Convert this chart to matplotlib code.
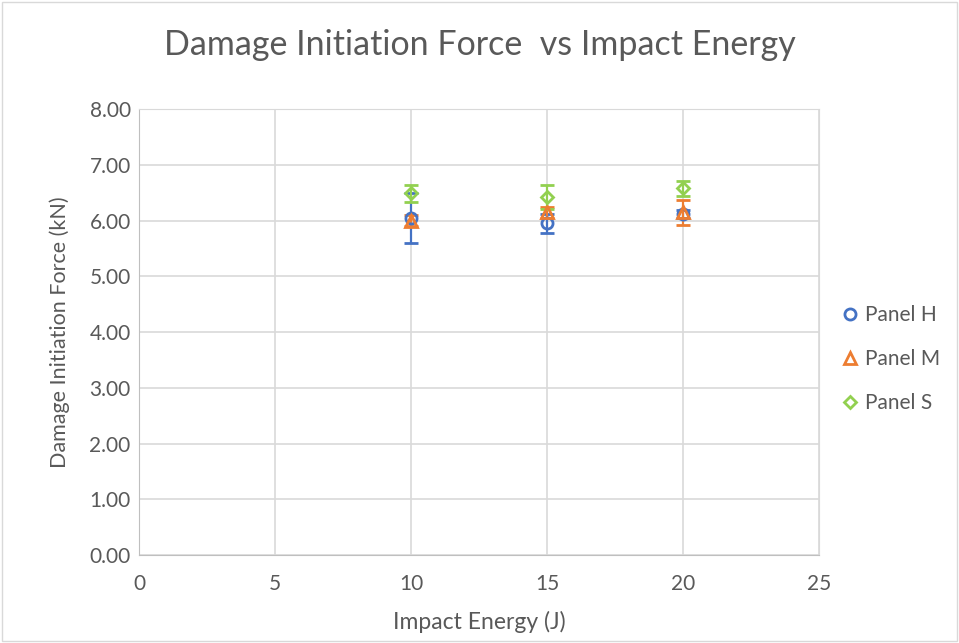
import numpy as np
import matplotlib.pyplot as plt
from matplotlib.patches import Rectangle
from matplotlib.lines import Line2D

plt.rcParams['font.family'] = ['Lato', 'DejaVu Sans']

energy = [10, 15, 20]
panel_h = [6.05, 5.95, 6.12]
panel_h_err = [0.45, 0.17, 0.08]
panel_m = [6.00, 6.15, 6.15]
panel_m_err = [0.10, 0.10, 0.22]
panel_s = [6.49, 6.43, 6.58]
panel_s_err = [0.15, 0.22, 0.14]

labels = ['Panel H', 'Panel M', 'Panel S']
colors = ['#4472C4', '#ED7D31', '#92D050']
markers = ['o', '^', 'D']
sizes = [8, 8, 6.5]

fig = plt.figure(figsize=(9.59, 6.43), dpi=100)
ax = fig.add_axes([0.145, 0.137, 0.709, 0.693])

series = [(panel_h, panel_h_err), (panel_m, panel_m_err), (panel_s, panel_s_err)]
handles = []
for (vals, err), lab, c, m, s in zip(series, labels, colors, markers, sizes):
    ax.errorbar(energy, vals, yerr=err, fmt=m, color=c, ecolor=c, mfc='none',
                mec=c, mew=2, ms=s, elinewidth=1.6, capsize=5, capthick=1.6,
                zorder=3)
    handles.append(Line2D([], [], linestyle='none', marker=m, mfc='none',
                          mec=c, mew=2, ms=s, label=lab))

ax.set_xlim(0, 25)
ax.set_ylim(0, 8)
ax.set_xticks(np.arange(0, 26, 5))
ax.set_yticks(np.arange(0, 8.1, 1))
ax.set_yticklabels([f'{v:.2f}' for v in np.arange(0, 8.1, 1)])
ax.grid(True, color='#d9d9d9', linewidth=1.2)
ax.set_axisbelow(True)
for side in ['top', 'right']:
    ax.spines[side].set_color('#d9d9d9')
for side in ['left', 'bottom']:
    ax.spines[side].set_color('#bfbfbf')
ax.tick_params(axis='y', length=0, labelsize=15, colors='#595959', pad=6)
ax.tick_params(axis='x', length=0, labelsize=15, colors='#595959', pad=14)

ax.set_xlabel('Impact Energy (J)', fontsize=16.5, color='#595959', labelpad=12)
ax.set_ylabel('Damage Initiation Force (kN)', fontsize=15.5, color='#595959', labelpad=14)
fig.suptitle('Damage Initiation Force  vs Impact Energy', x=0.5, y=0.955,
             fontsize=24.5, color='#595959')

leg = ax.legend(handles=handles, loc='center left', bbox_to_anchor=(1.0, 0.44),
                frameon=False, fontsize=15, labelspacing=1.15, handletextpad=0.1,
                handlelength=1.2)
for t in leg.get_texts():
    t.set_color('#595959')

fig.patches.append(Rectangle((0.002, 0.003), 0.996, 0.994, transform=fig.transFigure,
                             fill=False, edgecolor='#d9d9d9', linewidth=1))

fig.savefig('out.png', dpi=100)
